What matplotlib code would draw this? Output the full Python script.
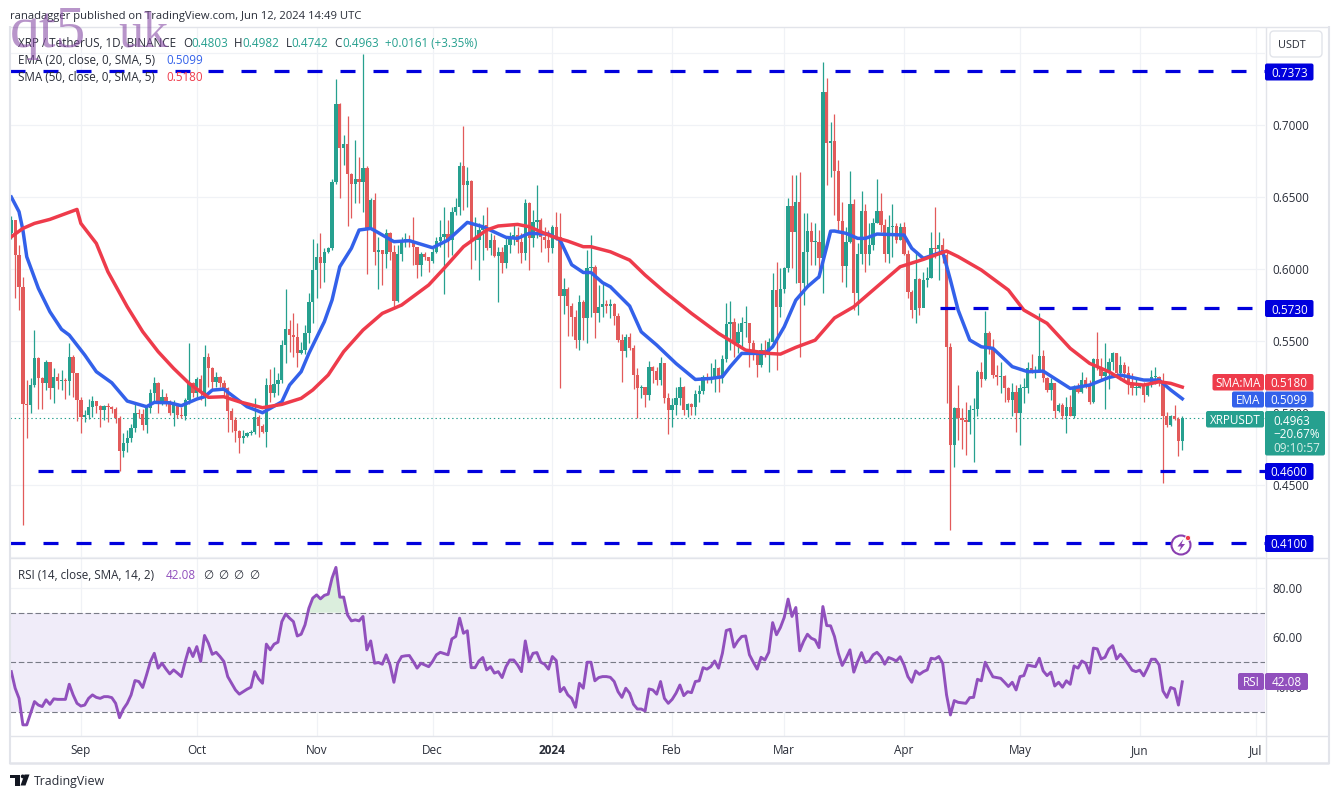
import numpy as np
import matplotlib
matplotlib.use("Agg")
from matplotlib import pyplot as plt
from matplotlib.patches import FancyBboxPatch, Circle, Polygon, Rectangle

plt.rcParams['font.family'] = ['Open Sans', 'DejaVu Sans']
plt.rcParams['lines.scale_dashes'] = False

# daily candles, 2023-08-14 .. 2024-06-12 (index 0 .. 303)
first_open = 0.6250
closes = [
    .6340, .6097, .5872, .5062, .5055, .5194, .5379, .5240, .5206, .5356,
    .5171, .5252, .5222, .5224, .5222, .5390, .5275, .5090, .4974, .4986,
    .5039, .5083, .5048, .5020, .5048, .5039, .5025, .4963, .4738, .4794,
    .4824, .4893, .4997, .4993, .4916, .5032, .5136, .5210, .5078, .5113,
    .5067, .5000, .5055, .4986, .4979, .5090, .5206, .5136, .5234, .5141,
    .5386, .5315, .5217, .5247, .5210, .5171, .5016, .4951, .4877, .4824,
    .4840, .4858, .4865, .4970, .4909, .4870, .5194, .5140, .5201, .5229,
    .5472, .5581, .5541, .5525, .5419,
    .5437, .5553, .5773, .5993, .6081, .6044, .6116, .6144, .6607, .7144,
    .6843, .6866, .6660, .6588, .6623, .6607, .6699, .6287, .6479, .6120,
    .6132, .6102, .6252, .6120, .5780, .6104, .6201, .6201, .6197, .6155,
    .6028, .6104, .6086, .6058, .6120, .6197, .6220, .6240, .6201, .6394,
    .6428, .6715, .6583, .6611, .6201,
    .6201, .6271, .6306, .6144, .6201, .6090, .6120, .6039, .6167, .6213,
    .6236, .6190, .6109, .6461, .6213, .6329, .6340, .6225, .6201, .6148,
    .6294, .6225, .5813, .5859, .5743, .5669, .5507, .5773, .5662, .6004,
    .6011, .5692, .5738, .5756, .5743, .5756, .5673, .5506, .5430, .5530,
    .5449, .5263, .5171, .5178, .5124, .5317, .5293, .5229, .5344, .5101,
    .5020, .5055, .5101, .5178, .5020, .5062, .5043, .5131, .5155, .5252,
    .5229, .5245, .5310, .5240, .5372, .5618, .5634, .5483, .5564, .5622,
    .5622, .5483, .5418, .5333, .5437, .5409, .5495, .5854, .5738, .5858,
    .6004, .6437, .6259, .6467, .5905, .6120, .6266, .6189, .6189, .6074,
    .7232, .6873, .6891, .6683, .6336, .6021, .6190, .6451, .5836, .6104,
    .6403, .6104, .6167, .6322, .6403, .6306, .6104, .6294, .6299, .6201,
    .6294, .6104, .5843, .5715, .5928, .5727, .5924, .5935, .6144, .6137,
    .6167, .6097,
    .5460, .4778, .5032, .4963, .4951, .4940, .5021, .5025, .5287, .5234,
    .5553, .5442, .5264, .5247, .5257, .5171, .5090, .5148, .4997, .5171,
    .5176, .5310, .5287, .5298, .5396, .5241, .5160, .5206, .5016, .5055,
    .4979, .5044, .4979, .5183, .5148, .5229, .5194, .5078, .5372, .5310,
    .5257, .5287, .5356, .5414, .5275, .5333, .5275, .5206, .5171, .5171,
    .5194, .5125, .5201, .5247, .5247, .5206, .4979, .4916, .4979, .4956,
    .4803, .4963,
]
highs = [
    .6370, .6340, .6166, .5942, .5229, .5240, .5576, .5390, .5252, .5370,
    .5315, .5310, .5275, .5300, .5240, .5488, .5400, .5280, .5113, .5020,
    .5100, .5120, .5083, .5055, .5055, .5067, .5050, .5044, .4980, .4860,
    .4880, .4923, .5078, .5030, .5030, .5055, .5170, .5252, .5217, .5164,
    .5136, .5090, .5090, .5067, .5044, .5102, .5488, .5217, .5252, .5263,
    .5472, .5419, .5321, .5287, .5257, .5229, .5183, .5032, .4970, .4882,
    .4882, .4870, .4882, .5102, .4986, .4923, .5240, .5303, .5321, .5275,
    .5510, .5859, .5646, .5692, .5623,
    .5495, .5610, .5836, .6206, .6178, .6252, .6143, .6155, .6623, .7317,
    .7155, .6930, .7063, .6669, .6896, .6780, .7493, .6718, .6491, .6526,
    .6225, .6132, .6280, .6259, .6167, .6167, .6225, .6252, .6236, .6364,
    .6155, .6120, .6120, .6086, .6144, .6225, .6340, .6433, .6340, .6433,
    .6490, .6745, .6993, .6710, .6618,
    .6364, .6317, .6375, .6433, .6248, .6236, .6155, .6155, .6225, .6259,
    .6306, .6294, .6248, .6484, .6468, .6410, .6583, .6352, .6294, .6271,
    .6306, .6398, .6387, .5935, .5877, .5762, .5715, .5819, .5785, .6131,
    .6236, .6027, .5888, .5900, .5784, .5789, .5761, .5692, .5546, .5546,
    .5553, .5472, .5310, .5194, .5178, .5363, .5326, .5321, .5391, .5349,
    .5136, .5101, .5182, .5252, .5187, .5067, .5071, .5159, .5194, .5263,
    .5275, .5344, .5372, .5321, .5402, .5766, .5780, .5657, .5622, .5668,
    .5743, .5627, .5506, .5437, .5483, .5506, .5518, .5969, .6050, .6004,
    .6016, .6495, .6652, .6652, .6676, .6386, .6386, .6328, .6317, .6270,
    .7440, .7324, .7023, .7077, .6757, .6468, .6294, .6683, .6484, .6178,
    .6544, .6451, .6322, .6352, .6623, .6526, .6345, .6375, .6451, .6317,
    .6317, .6329, .6132, .5854, .6109, .5935, .5981, .6016, .6259, .6433,
    .6259, .6213,
    .6132, .5484, .5044, .5194, .5032, .5078, .5055, .5102, .5298, .5356,
    .5710, .5569, .5511, .5333, .5356, .5264, .5183, .5206, .5194, .5201,
    .5241, .5356, .5409, .5326, .5697, .5437, .5252, .5241, .5210, .5067,
    .5067, .5113, .5125, .5194, .5206, .5287, .5247, .5229, .5379, .5565,
    .5379, .5484, .5379, .5426, .5414, .5398, .5356, .5326, .5280, .5241,
    .5206, .5217, .5206, .5298, .5317, .5257, .5275, .5009, .4986, .5055,
    .4974, .4982,
]
lows = [
    .6210, .5800, .5715, .4222, .4824, .4997, .5180, .5025, .5025, .5160,
    .5100, .5070, .5170, .5160, .5097, .5125, .5110, .4946, .4863, .4940,
    .4960, .4974, .4997, .4905, .4950, .4940, .5000, .4928, .4600, .4696,
    .4730, .4800, .4870, .4963, .4880, .4863, .5000, .5067, .4997, .5055,
    .5048, .4986, .4910, .4963, .4963, .4950, .5060, .5113, .5113, .5090,
    .5048, .5183, .5170, .5183, .5183, .5113, .4870, .4870, .4800, .4724,
    .4789, .4830, .4847, .4854, .4835, .4858, .4766, .5078, .5113, .5125,
    .5206, .5345, .5426, .5391, .5321,
    .5410, .5410, .5484, .5623, .5796, .5866, .5912, .6113, .6132, .6588,
    .6491, .6720, .6301, .6352, .6456, .6456, .6398, .5965, .6282, .6028,
    .5859, .5890, .6005, .6063, .5734, .5773, .6058, .6155, .6155, .6028,
    .5935, .5951, .6063, .5981, .6040, .6109, .6155, .5824, .6086, .6097,
    .6375, .6375, .6410, .6433, .6000,
    .6063, .5924, .6063, .6132, .6097, .6086, .5773, .5970, .6005, .6109,
    .6167, .6109, .6039, .6063, .5993, .6155, .6213, .6120, .6144, .6051,
    .6109, .6201, .5171, .5688, .5535, .5535, .5454, .5437, .5507, .5484,
    .5668, .5518, .5634, .5668, .5692, .5657, .5611, .5495, .5217, .5391,
    .5437, .5164, .4962, .5101, .5039, .5090, .5205, .5194, .5194, .5067,
    .4851, .4900, .4986, .5055, .4986, .4974, .4986, .4986, .5078, .5129,
    .5205, .5205, .5148, .5148, .5205, .5356, .5437, .5391, .5414, .5460,
    .5530, .5321, .5368, .5252, .5321, .5391, .5287, .5483, .5298, .5668,
    .5831, .5981, .6004, .5900, .5386, .5750, .5888, .6027, .6027, .5935,
    .5831, .6583, .6641, .6375, .6271, .5912, .5873, .6178, .5715, .5681,
    .6035, .5981, .6028, .6132, .6322, .6259, .6051, .6044, .6086, .6178,
    .6201, .6097, .5796, .5662, .5623, .5681, .5854, .5877, .5935, .6074,
    .5924, .6039,
    .5067, .4187, .4627, .4812, .4747, .4708, .4854, .4662, .4979, .5183,
    .5229, .5410, .5241, .5194, .5136, .5078, .5078, .4979, .4870, .4778,
    .5067, .5141, .5275, .5241, .5298, .5217, .5148, .5090, .4967, .5009,
    .4956, .4863, .4979, .4963, .5136, .5136, .5171, .5062, .5067, .5298,
    .5234, .5025, .5164, .5298, .5264, .5229, .5217, .5132, .5125, .5125,
    .5171, .5078, .5118, .5183, .5201, .5187, .4511, .4900, .4909, .4951,
    .4703, .4742,
]

# moving averages, read at their bends: (candle index, value)
ema_idx = [0, 2, 3, 4, 7, 10, 13, 15, 19, 22, 26, 30, 35, 37, 41, 44, 48, 50, 52, 55, 57, 61, 65, 67, 70, 72,
           75, 77, 81, 83, 85, 88, 90, 93, 95, 99, 103, 109, 113, 118, 122, 128, 131, 134, 139, 142, 145, 148,
           150, 153, 155, 160, 163, 167, 172, 177, 181, 184, 186, 189, 195, 197, 200, 203, 206, 209, 211, 212,
           213, 216, 219, 221, 224, 231, 233, 236, 241, 243, 245, 248, 251, 254, 259, 263, 267, 274, 279, 284,
           287, 293, 297, 300, 303]
ema_val = [.6500, .6398, .6271, .6085, .5866, .5703, .5581, .5541, .5403, .5287, .5210, .5083, .5044, .5074, .5071,
           .5051, .5097, .5113, .5159, .5166, .5125, .5044, .5002, .5032, .5078, .5194,
           .5287, .5414, .5634, .5785, .6016, .6144, .6271, .6282, .6252, .6190, .6197, .6148, .6201, .6324, .6294,
           .6220, .6213, .6248, .6243, .6201, .6030, .5976,
           .5976, .5905, .5877, .5743, .5564, .5472, .5344, .5233, .5240, .5252, .5321, .5414, .5414, .5460, .5599,
           .5784, .5877, .5946, .6155, .6263,
           .6264, .6248, .6213, .6213, .6243, .6236, .6144, .6074, .6120, .5924, .5715, .5507, .5460, .5449, .5322,
           .5287, .5291, .5171, .5194, .5247, .5264, .5229, .5229, .5160, .5099]
sma_idx = [0, 3, 6, 10, 17, 18, 22, 25, 30, 34, 38, 42, 46, 51, 55, 59, 65, 70, 75,
           78, 82, 86, 91, 96, 101, 108, 112, 117, 123, 126, 131, 134, 140, 144, 148, 150,
           155, 160, 164, 169, 176, 183, 190, 196, 199, 203, 208, 213, 218, 222, 230, 236, 242, 245, 251,
           258, 262, 268, 274, 279, 284, 289, 293, 297, 300, 303]
sma_val = [.6224, .6282, .6317, .6345, .6414, .6317, .6178, .5981, .5738, .5565, .5426, .5310, .5206, .5109, .5113,
           .5078, .5037, .5060, .5102,
           .5160, .5264, .5426, .5576, .5692, .5750, .5889, .6005, .6155, .6271, .6299, .6310, .6294, .6225, .6194,
           .6155, .6155,
           .6120, .6062, .5958, .5842, .5692, .5553, .5437, .5414, .5409, .5456, .5506, .5660, .5738, .5831, .6016,
           .6067, .6125, .6086, .5993,
           .5854, .5715, .5623, .5449, .5345, .5287, .5206, .5194, .5217, .5206, .5180]

rsi_val = [
    46.2, 39.5, 35.4, 24.7, 24.7, 29.4, 34.1, 32.7, 32.1, 34.8, 33.0, 35.2, 35.0, 35.0, 35.0, 41.1, 36.8, 33.4, 32.3, 32.7,
    35.4, 36.8, 35.8, 35.4, 36.1, 36.1, 35.7, 33.4, 27.6, 31.1, 33.4, 36.8, 42.6, 42.2, 39.8, 44.9, 50.3, 53.6, 47.6, 49.6,
    47.3, 45.3, 46.9, 45.6, 44.2, 50.3, 55.7, 52.3, 56.3, 50.3, 60.8, 57.7, 53.2, 54.0, 52.3, 50.3, 44.2, 41.5, 38.8, 37.1,
    38.1, 39.1, 39.9, 46.2, 43.3, 41.5, 57.3, 55.0, 57.3, 58.1, 66.4, 69.5, 67.8, 66.4, 60.6, 61.3, 65.1, 71.8, 75.9, 77.2,
    75.6, 77.0, 77.5, 84.0, 88.3, 76.3, 76.3, 69.1, 66.7, 67.1, 66.7, 68.5, 55.0, 58.6, 49.6, 49.9, 49.2, 53.0, 48.9, 41.9,
    49.6, 52.3, 52.6, 52.7, 50.3, 47.6, 49.6, 48.9, 48.2, 50.3, 53.0, 54.0, 53.5, 53.0, 59.4, 60.4, 67.8, 61.7, 62.7, 47.8,
    47.8, 50.5, 51.9, 46.9, 48.2, 45.6, 46.2, 43.8, 48.2, 50.9, 50.9, 48.9, 46.2, 58.6, 50.3, 53.6, 53.9, 50.0, 49.2, 47.2,
    52.3, 50.7, 38.1, 39.8, 36.8, 35.4, 31.8, 41.5, 39.5, 50.0, 50.0, 42.5, 43.8, 44.2, 44.2, 43.9, 42.2, 38.1, 35.8, 39.5,
    37.5, 33.0, 31.1, 31.1, 30.3, 39.2, 38.8, 37.1, 42.2, 35.4, 33.4, 35.0, 37.5, 40.8, 36.5, 38.1, 37.7, 42.2, 42.5, 47.8,
    47.2, 48.2, 50.5, 47.6, 53.6, 62.8, 63.3, 56.1, 58.6, 60.4, 60.6, 53.0, 50.0, 47.2, 52.0, 50.9, 54.0, 66.0, 61.1, 64.0,
    68.1, 75.5, 68.5, 72.1, 54.6, 58.4, 61.3, 59.7, 59.0, 55.9, 72.5, 64.8, 64.7, 60.4, 53.6, 48.7, 51.6, 55.0, 46.0, 50.3,
    53.9, 49.9, 50.5, 53.0, 54.0, 52.3, 49.2, 51.9, 51.3, 50.5, 52.2, 48.9, 44.2, 41.9, 46.5, 45.1, 46.2, 46.9, 51.6, 51.3,
    52.3, 49.6, 36.8, 28.7, 34.5, 33.8, 33.6, 33.4, 35.7, 35.8, 43.1, 42.5, 50.0, 46.9, 44.1, 43.8, 43.5, 41.9, 40.2, 41.9,
    38.8, 44.2, 44.6, 48.9, 48.5, 48.2, 51.6, 46.5, 44.6, 46.0, 40.4, 41.9, 39.9, 42.5, 41.1, 48.5, 47.6, 50.5, 49.6, 45.6,
    55.7, 55.4, 51.3, 52.0, 55.3, 56.7, 51.3, 53.2, 51.3, 49.2, 46.8, 46.2, 46.8, 44.5, 47.6, 51.2, 51.2, 48.9, 38.4, 35.8,
    39.8, 39.2, 32.7, 42.08,
]

# hand-drawn support / resistance levels
level_vals = [0.7373, 0.5730, 0.4600, 0.4100]
level_start = [-0.34, 240.3, 6.9, -0.34]

price_ticks = [0.40, 0.45, 0.50, 0.55, 0.60, 0.65, 0.70, 0.75]
price_labels = ['', '0.4500', '0.5000', '0.5500', '0.6000', '0.6500', '0.7000', '']
rsi_ticks = [40, 60, 80]
rsi_labels = ['40.00', '60.00', '80.00']
month_pos = [18, 48, 79, 109, 140, 171, 200, 231, 261, 292, 322]
month_labels = ['Sep', 'Oct', 'Nov', 'Dec', '2024', 'Feb', 'Mar', 'Apr', 'May', 'Jun', 'Jul']

GREEN = '#26a08f'
RED = '#e25a5a'
BLUE_MA = '#3361ea'
RED_MA = '#ee3b4b'
PURPLE = '#9150bd'
LEVEL = '#0000dd'
GRID = '#f0f2f6'
FRAME = '#e2e4ea'
TEXT = '#2a2e39'

W, H = 1339, 798
fig = plt.figure(figsize=(W / 100, H / 100), dpi=100, facecolor='white')


def px_axes(left, top, right, bottom):
    return fig.add_axes([left / W, 1 - bottom / H, (right - left) / W, (bottom - top) / H])


ax = px_axes(10, 27, 1265, 558)
ax_rsi = px_axes(10, 558, 1265, 736)
xlim = (-0.336, 324.4)

x = np.arange(len(closes))
closes = np.array(closes)
opens = np.r_[first_open, closes[:-1]]
highs = np.array(highs)
lows = np.array(lows)
assert len(x) == len(highs) == len(lows) == len(rsi_val) == 304, (len(x), len(highs), len(lows), len(rsi_val))
assert len(ema_idx) == len(ema_val) and len(sma_idx) == len(sma_val), (len(ema_idx), len(ema_val), len(sma_idx), len(sma_val))

colors = np.where(closes >= opens, GREEN, RED)
ax.vlines(x, lows, highs, colors=colors, lw=0.9, zorder=3)
ax.bar(x, np.maximum(np.abs(closes - opens), 0.0008), bottom=np.minimum(opens, closes), width=0.86,
       color=colors, linewidth=0, zorder=3)

ax.plot(ema_idx, ema_val, color=BLUE_MA, lw=2.5, solid_joinstyle='round', zorder=4)
ax.plot(sma_idx, sma_val, color=RED_MA, lw=2.5, solid_joinstyle='round', zorder=5)

for val, start in zip(level_vals, level_start):
    ax.plot([start, xlim[1]], [val, val], color=LEVEL, lw=2.3, dashes=(10.8, 12.96), dash_capstyle='butt', zorder=6)
ax.axhline(closes[-1], color=GREEN, lw=0.8, dashes=(1, 2), zorder=2)

ax.set_xlim(*xlim)
ax.set_ylim(0.3993, 0.7681)
ax.set_xticks(month_pos)
ax.set_xticklabels([])
ax.yaxis.tick_right()
ax.set_yticks(price_ticks)
ax.set_yticklabels(price_labels, fontsize=8.5, color=TEXT)
ax.tick_params(length=0, pad=5.5)
ax.grid(True, color=GRID, lw=0.9, zorder=0)
ax.set_axisbelow(True)
for s in ax.spines.values():
    s.set_visible(False)

ax_rsi.axhspan(30, 70, color='#f0ecf9', lw=0, zorder=1)
for lev in (70, 50, 30):
    ax_rsi.axhline(lev, color='#787b86', lw=0.8, dashes=(4, 2), zorder=2)
rsi_arr = np.array(rsi_val)
ax_rsi.fill_between(x, 70, rsi_arr, where=rsi_arr >= 70, interpolate=True, color='#dbeedd', lw=0, zorder=2)
ax_rsi.plot(x, rsi_arr, color=PURPLE, lw=2.1, solid_joinstyle='round', zorder=4)
ax_rsi.set_xlim(*xlim)
ax_rsi.set_ylim(20.2, 92.1)
ax_rsi.set_xticks(month_pos)
ax_rsi.set_xticklabels(month_labels, fontsize=8.5, color=TEXT)
ax_rsi.get_xticklabels()[4].set_fontweight('bold')
ax_rsi.yaxis.tick_right()
ax_rsi.set_yticks(rsi_ticks)
ax_rsi.set_yticklabels(rsi_labels, fontsize=8.5, color=TEXT)
ax_rsi.tick_params(axis='y', length=0, pad=5.5)
ax_rsi.tick_params(axis='x', length=0, pad=6)
ax_rsi.grid(True, color=GRID, lw=0.9, zorder=0)
ax_rsi.set_axisbelow(True)
for s in ax_rsi.spines.values():
    s.set_visible(False)

# overlay in pixel coordinates for frame, price tags and legend text
ov = fig.add_axes([0, 0, 1, 1], zorder=10)
ov.set_xlim(0, W)
ov.set_ylim(H, 0)
ov.axis('off')
ov.patch.set_alpha(0)


def seg(x0, y0, x1, y1, lw=1.0, color=FRAME):
    ov.plot([x0, x1], [y0, y1], color=color, lw=lw, solid_capstyle='butt')


seg(9.5, 26.5, 1329, 26.5)
seg(9.5, 26, 9.5, 764, lw=1.5)
seg(1328.5, 26, 1328.5, 764, lw=1.5)
seg(9, 763, 1329, 763, lw=1.8)
seg(10, 558, 1329, 558)
seg(10, 736, 1329, 736)
seg(1265.5, 27, 1265.5, 763)


def tag(x0, y0, x1, y1, color, label, fs=8.5):
    ov.add_patch(FancyBboxPatch((x0, y0), x1 - x0, y1 - y0, boxstyle='round,pad=0,rounding_size=2',
                                fc=color, ec='none', zorder=3))
    if label:
        ov.text((x0 + x1) / 2, (y0 + y1) / 2, label, color='white', fontsize=fs, ha='center', va='center_baseline', zorder=4)


for label, y0 in zip(['0.7373', '0.5730', '0.4600', '0.4100'], [63.5, 300, 463, 535]):
    tag(1265, y0, 1313.5, y0 + 17, LEVEL, label)

tag(1212.5, 374, 1264, 390.5, RED_MA, 'SMA:MA')
tag(1265, 374, 1313.5, 390.5, RED_MA, '0.5180')
tag(1232, 391.5, 1264, 407.5, BLUE_MA, 'EMA')
tag(1265, 391.5, 1313.5, 407.5, BLUE_MA, '0.5099')
tag(1206, 411, 1264, 427.5, GREEN, 'XRPUSDT')
tag(1265, 411, 1325, 455.5, GREEN, '')
ov.text(1273, 420, '0.4963', color='white', fontsize=8.5, va='center_baseline', zorder=4)
ov.text(1273, 433.5, '\u221220.67%', color='white', fontsize=8.5, va='center_baseline', zorder=4)
ov.text(1273, 447, '09:10:57', color='#d8efe9', fontsize=8.5, va='center_baseline', zorder=4)
tag(1238, 673, 1264, 690, PURPLE, 'RSI')
tag(1265, 673, 1308, 690, PURPLE, '42.08')

ov.add_patch(FancyBboxPatch((1270, 31), 52, 26, boxstyle='round,pad=0,rounding_size=4', fc='white', ec=FRAME, lw=1))
ov.text(1292, 44, 'USDT', color=TEXT, fontsize=7.8, ha='center', va='center_baseline')


def txt(x0, y0, s, color=TEXT, fs=8.4):
    ov.text(x0, y0, s, color=color, fontsize=fs, va='center_baseline', zorder=5)


txt(10, 15, 'ranadagger published on TradingView.com, Jun 12, 2024 14:49 UTC', fs=8.15)
txt(18, 42, 'XRP / TetherUS, 1D, BINANCE')
for xl, xv, letter, val in [(183, 191, 'O', '0.4803'), (234, 242, 'H', '0.4982'),
                            (286, 291, 'L', '0.4742'), (334.5, 342, 'C', '0.4963')]:
    txt(xl, 42, letter)
    txt(xv, 42, val, color=GREEN)
txt(385, 42, '+0.0161 (+3.35%)', color=GREEN)
txt(18, 59, 'EMA (20, close, 0, SMA, 5)')
txt(166, 59, '0.5099', color=BLUE_MA)
txt(18, 76, 'SMA (50, close, 0, SMA, 5)')
txt(166, 76, '0.5180', color=RED_MA)
txt(18, 574, 'RSI (14, close, SMA, 14, 2)')
txt(166, 574, '42.08', color=PURPLE)
for xn in (203, 218, 233, 249):
    txt(xn, 574, '\u2205')

# pasted watermark
ov.text(10, 47, 'qt5', family='Liberation Serif', fontsize=43, color='#8a4fa8', alpha=0.6, va='baseline', zorder=6)
ov.text(118, 47, 'uk', family='Liberation Serif', fontsize=36, color='#8a4fa8', alpha=0.6, va='baseline', zorder=6)

# lightning badge
ov.add_patch(Circle((1181, 545), 9.5, fc='white', ec='#8a3fb0', lw=1.5, zorder=6))
ov.add_patch(Polygon([(1183.5, 539), (1177.5, 546.5), (1181, 546.5), (1179, 551.5), (1185, 544), (1181.5, 544)],
                     fc='#8a3fb0', ec='none', zorder=7))
ov.add_patch(Circle((1188, 538), 2.6, fc='#ee3b4b', ec='white', lw=0.6, zorder=8))

# TradingView logo
LOGO = '#131722'
ov.add_patch(Rectangle((10, 774.5), 10, 3.8, fc=LOGO, ec='none'))
ov.add_patch(Rectangle((15, 774.5), 5, 11, fc=LOGO, ec='none'))
ov.add_patch(Circle((22.7, 776.4), 1.9, fc=LOGO, ec='none'))
ov.add_patch(Polygon([(24.5, 774.5), (29.5, 774.5), (25.5, 785.5), (20.5, 785.5)], fc=LOGO, ec='none'))
ov.text(34, 780, 'TradingView', color='#2a2e39', fontsize=8.9, va='center_baseline')

fig.savefig('out.png', dpi=100, facecolor='white')
